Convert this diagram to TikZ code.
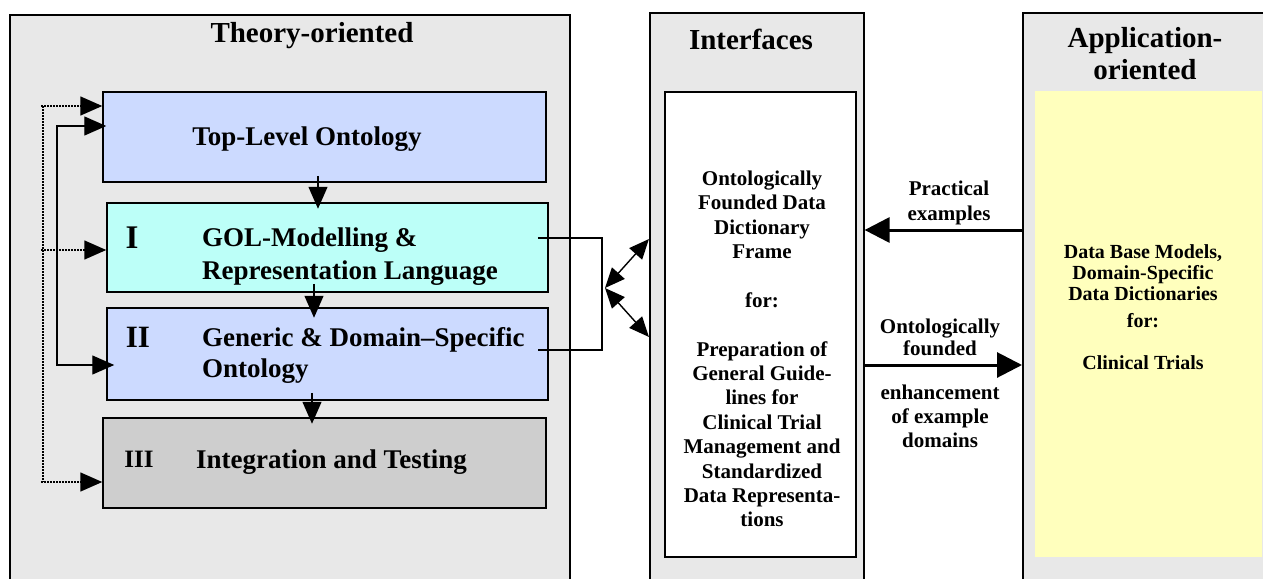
\documentclass[tikz,border=0pt]{standalone}
\usepackage{fontspec}
\setmainfont{Liberation Serif}
\usetikzlibrary{arrows.meta}
\definecolor{panelgray}{RGB}{232,232,232}
\definecolor{topblue}{RGB}{204,218,255}
\definecolor{golcyan}{RGB}{188,255,248}
\definecolor{testgray}{RGB}{206,206,206}
\definecolor{appyellow}{RGB}{255,255,189}
\tikzset{
  panel/.style = {draw, line width=1.6, fill=panelgray, anchor=north west, inner sep=0},
  stage/.style = {draw, line width=1.5, inner sep=0},
  big/.style   = {font=\fontsize{29}{32}\selectfont\bfseries, inner sep=0},
  mid/.style   = {font=\fontsize{27}{33}\selectfont\bfseries, inner sep=0},
  small/.style = {font=\fontsize{21}{24.4}\selectfont\bfseries, inner sep=0, align=center},
  tip/.style   = {-{Triangle[length=22pt,width=19pt]}},
  conn/.style  = {line width=1.4},
  dotconn/.style = {line width=1.6, dash pattern=on 2pt off 1pt},
  fat/.style   = {line width=3, -{Triangle[length=25pt,width=25pt]}}
}
\begin{document}
\begin{tikzpicture}[x=1pt, y=-1pt]
\useasboundingbox (0,0) rectangle (1263,578);
% panels
\node[panel, minimum width=560, minimum height=620] (theory) at (9,14) {};
\node[panel, minimum width=214, minimum height=620] (iface) at (649,12) {};
\node[panel, minimum width=262, minimum height=620] (app) at (1022,12) {};
\node[big, anchor=base] (theorytitle) at (312,43) {Theory-oriented};
\node[big, anchor=base] (ifacetitle) at (751,50) {Interfaces};
\node[big, align=center] (apptitle) at (1145,54) {Application-\\oriented};
% stages
\node[stage, fill=topblue, minimum width=443, minimum height=90] (top) at (324.5,137) {};
\node[stage, fill=golcyan, minimum width=441, minimum height=89] (gol) at (327.5,247.5) {};
\node[stage, fill=topblue, minimum width=441, minimum height=92] (gen) at (327.5,354) {};
\node[stage, fill=testgray, minimum width=443, minimum height=90] (test) at (324.5,463) {};
\node[mid, anchor=base] (toptext) at (307,145) {Top-Level Ontology};
\node[mid, font=\fontsize{33}{33}\selectfont\bfseries, anchor=base] (num1) at (132,248) {I};
\node[mid, align=left, anchor=west] (goltext) at (202,257) {GOL-Modelling \&\\Representation Language};
\node[mid, font=\fontsize{31}{31}\selectfont\bfseries, anchor=base] (num2) at (138,347) {II};
\node[mid, font=\fontsize{27}{31}\selectfont\bfseries, align=left, anchor=west] (gentext) at (202,355) {Generic \& Domain–Specific\\Ontology};
\node[mid, font=\fontsize{25}{25}\selectfont\bfseries, anchor=base] (num3) at (139,467) {III};
\node[mid, anchor=base west] (testtext) at (196,468) {Integration and Testing};
% down arrows
\draw[conn, tip] ([xshift=-6.5, yshift=7]top.south) -- ++(0,33);
\draw[conn, tip] ([xshift=-13.5, yshift=9]gol.south) -- ++(0,34);
\draw[conn, tip] ([xshift=-15.5, yshift=8]gen.south) -- ++(0,31);
% feedback lines
\coordinate (dA) at (41,106);
\coordinate (dB) at (41,250);
\coordinate (dC) at (41,482);
\draw[dotconn] (43,106) -- (43,482);
\draw[dotconn, tip] (dA) -- (top.west |- dA);
\draw[dotconn, tip] (dB) -- (gol.west |- dB);
\draw[dotconn, tip] (dC) -- (test.west |- dC);
\coordinate (sA) at (57,126);
\coordinate (sB) at (57,365);
\draw[conn, {Triangle[length=22pt,width=19pt]}-{Triangle[length=22pt,width=19pt]}]
  ([xshift=4]top.west |- sA) -- (sA) -- (sB) -- ([xshift=8]gen.west |- sB);
% bracket to interfaces
\coordinate (brk) at (602,294);
\coordinate (hub) at (605,288);
\draw[line width=1.2] ([xshift=-11, yshift=9.5]gol.east) -| (brk) |- ([xshift=-11, yshift=4]gen.east);
\draw[conn, {Triangle[length=20pt,width=17pt]}-{Triangle[length=20pt,width=17pt]}] (hub) -- (iface.west |- 0,239);
\draw[conn, {Triangle[length=20pt,width=17pt]}-{Triangle[length=20pt,width=17pt]}] (hub) -- (iface.west |- 0,337);
% interface frame
\node[draw, line width=1.5, fill=white, minimum width=191, minimum height=465] (frame) at (760.5,324.5) {};
\node[small] (frametext) at (762,349) {Ontologically\\Founded Data\\Dictionary\\Frame\\[24.4pt]for:\\[24.4pt]Preparation of\\General Guide-\\lines for\\Clinical Trial\\Management and\\Standardized\\Data Representa-\\tions};
% application side
\node[fill=appyellow, minimum width=227, minimum height=466, inner sep=0] (domain) at (1148.5,324) {};
\node[small, font=\fontsize{20}{21}\selectfont\bfseries] (domaintext) at (1143,307) {Data Base Models,\\Domain-Specific\\Data Dictionaries\\[6pt]for:\\[21pt]Clinical Trials};
% exchange arrows
\draw[fat] (app.west |- 0,230) -- (iface.east |- 0,230);
\draw[fat] (iface.east |- 0,365) -- (app.west |- 0,365);
\node[small, font=\fontsize{21}{25}\selectfont\bfseries] (practical) at (949,203) {Practical\\examples};
\node[small, font=\fontsize{21}{22}\selectfont\bfseries] (founded) at (940,337) {Ontologically\\founded};
\node[small, font=\fontsize{21}{24}\selectfont\bfseries] (enhance) at (940,416) {enhancement\\of example\\domains};
\end{tikzpicture}
\end{document}
